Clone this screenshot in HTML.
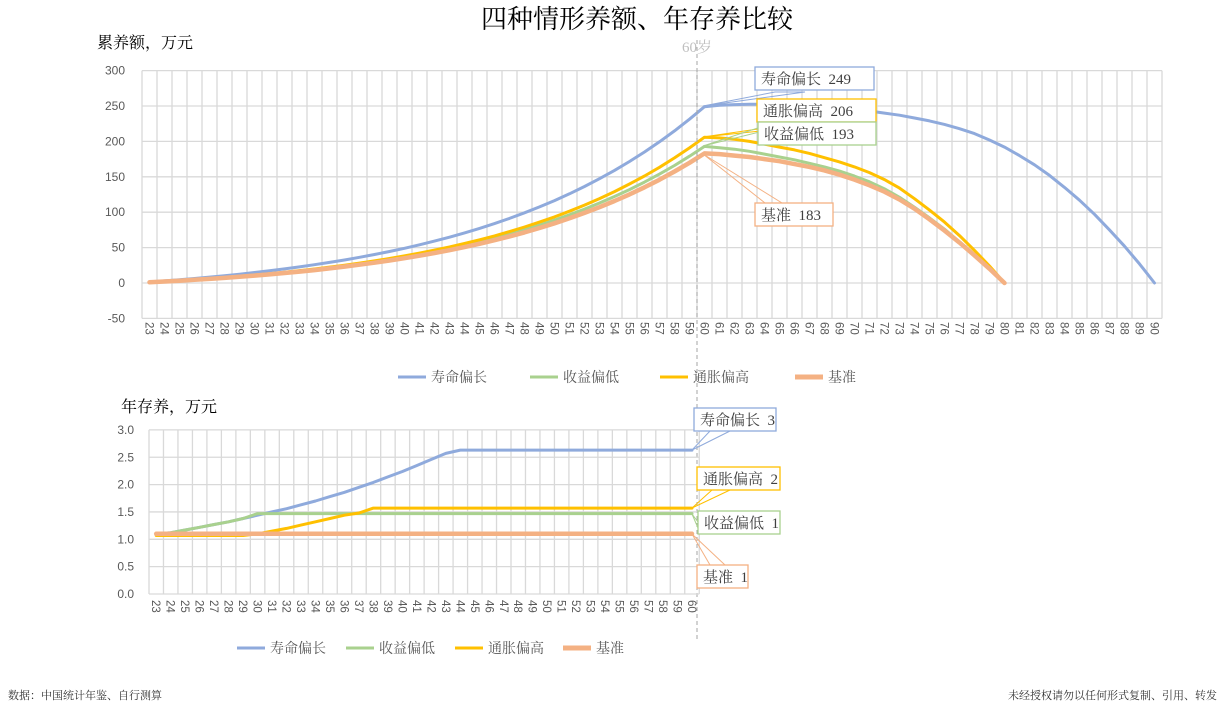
<!DOCTYPE html>
<html><head><meta charset="utf-8"><style>
body{margin:0;background:#fff;width:1227px;height:709px;overflow:hidden}
svg text{font-family:"Liberation Sans","Noto Sans CJK SC",sans-serif}
.s{font-family:"Liberation Serif","Noto Serif CJK SC",serif !important}
</style></head><body>
<svg id="c" width="1227" height="709" xmlns="http://www.w3.org/2000/svg">
<text x="637" y="28" text-anchor="middle" font-size="26" class="s" fill="#000">四种情形养额、年存养比较</text>
<text x="97" y="48" font-size="16" class="s" fill="#000">累养额，万元</text>
<text x="121" y="412" font-size="16" class="s" fill="#000">年存养，万元</text>
<text x="8" y="699" font-size="11" class="s" fill="#333">数据：中国统计年鉴、自行测算</text>
<text x="1217" y="699" font-size="11" text-anchor="end" class="s" fill="#333">未经授权请勿以任何形式复制、引用、转发</text>
<g id="g"></g>
</svg>
<script>
var g=document.getElementById('g'),h='';
function L(x1,y1,x2,y2,c,w,d){h+='<line x1="'+x1+'" y1="'+y1+'" x2="'+x2+'" y2="'+y2+'" stroke="'+c+'" stroke-width="'+(w||1)+'"'+(d?' stroke-dasharray="'+d+'"':'')+'/>';}
function T(x,y,t,s,a,c,ex){h+='<text x="'+x+'" y="'+y+'" font-size="'+s+'" text-anchor="'+(a||'start')+'" fill="'+(c||'#595959')+'" '+(ex||'')+'>'+t+'</text>';}
var X0=142,W=15,Y0=283,K=0.708;
function tx(a){return X0+(a-23+0.5)*W}function ty(v){return Y0-v*K}
for(var v=-50;v<=300;v+=50){L(X0,ty(v),X0+68*W,ty(v),'#d9d9d9',1.3);T(125,ty(v)+4,v,12,'end');}
for(var i=0;i<=68;i++)L(X0+i*W,ty(300),X0+i*W,ty(-50),'#d9d9d9',1.3);
for(var a=23;a<=90;a++)T(tx(a)-4,322,a,11.5,'start','#595959','transform="rotate(90 '+(tx(a)-4)+' 322)"');
function acc(V,r){var p=[];var D=Math.pow(1+r,38)-1;for(var a=23;a<=60;a++)p.push([a,V*(Math.pow(1+r,a-22)-1)/D]);return p;}
function dec(arr){var p=[];for(var i=1;i<arr.length;i++)p.push([60+i,arr[i]]);return p;}
var blue=acc(249,0.07).concat(dec([249,251,252,252.5,252.5,252,251,250,248.5,247,245,243,240,237,233,229,224,218,211,202,192,180,167,152,135,117,97,75,52,27,0]));
var yel=acc(206,0.074).concat(dec([206,205,203,200,196,192,188,183,177,171,164,156,146,134,119,103,86,67,46,24,0]));
var grn=acc(193,0.072).concat(dec([193,191,189,186,182,178,174,169,164,158,151,143,133,121,107,92,76,58,40,20,0]));
var org=acc(183,0.072).concat(dec([183,182,180,178,175,172,168,164,159,153,146,138,129,118,105,90,74,57,39,20,0]));
function P(pts,fx,fy,c,w){var d='';pts.forEach(function(p,i){d+=(i?'L':'M')+fx(p[0]).toFixed(1)+' '+fy(p[1]).toFixed(1)});h+='<path d="'+d+'" fill="none" stroke="'+c+'" stroke-width="'+w+'" stroke-linejoin="round" stroke-linecap="round"/>';}
var CB='#8faadc',CG='#a9d18e',CY='#ffc000',CO='#f4b183';
P(blue,tx,ty,CB,3);P(grn,tx,ty,CG,3);P(yel,tx,ty,CY,3);P(org,tx,ty,CO,4.5);
L(697,40,697,640,'#a6a6a6',1,'4,3');
T(697,52,'60岁',15,'middle','#bfbfbf','class="s"');
function box(x,y,w,hh,c,t){h+='<rect x="'+x+'" y="'+y+'" width="'+w+'" height="'+hh+'" fill="#fff" stroke="'+c+'" stroke-width="1.3"/>';T(x+6,y+17,t,15,'start','#404040','class="s" xml:space="preserve"');}
h+='<polygon points="703,106 775,92 805,92" fill="none" stroke="'+CB+'"/>';
h+='<polygon points="703,137 765,128 790,128" fill="none" stroke="'+CY+'"/>';
h+='<polygon points="703,146 776,122 800,122" fill="none" stroke="'+CG+'"/>';
h+='<polygon points="703,154 765,203 782,203" fill="none" stroke="'+CO+'"/>';
box(755,67,119,23,CB,'寿命偏长  249');
box(757,99,119,23,CY,'通胀偏高  206');
box(758,122,118,23,CG,'收益偏低  193');
box(755,203,78,23,CO,'基准  183');
function leg(x,y,c,t,w){L(x,y,x+28,y,c,w||3);T(x+33,y+5,t,14,'start','#595959','class="s"');}
leg(398,377,CB,'寿命偏长');leg(530,377,CG,'收益偏低');leg(660,377,CY,'通胀偏高');leg(795,377,CO,'基准',5);
leg(237,648,CB,'寿命偏长');leg(346,648,CG,'收益偏低');leg(455,648,CY,'通胀偏高');leg(563,648,CO,'基准',5);
var BX=149,BW=14.48,BY=594,BK=54.7;
function bx(a){return BX+(a-23+0.5)*BW}function by(v){return BY-v*BK}
for(var v=0;v<=3.001;v+=0.5){L(BX,by(v),BX+38*BW,by(v),'#d9d9d9',1.3);T(134,by(v)+4,v.toFixed(1),12,'end');}
for(var i=0;i<=38;i++)L(BX+i*BW,by(3),BX+i*BW,BY,'#d9d9d9',1.3);
for(var a=23;a<=60;a++)T(bx(a)-4,600,a,11.5,'start','#595959','transform="rotate(90 '+(bx(a)-4)+' 600)"');
var bb=[1.1,1.12,1.17,1.22,1.27,1.32,1.38,1.44,1.5,1.56,1.63,1.7,1.78,1.86,1.95,2.04,2.14,2.24,2.35,2.46,2.57,2.63];
function mk(arr,last){var p=[];for(var a=23;a<=60;a++){var i=a-23;p.push([a,i<arr.length?arr[i]:last]);}return p;}
var bB=mk(bb,2.63);
var bG=mk([1.1,1.12,1.17,1.22,1.27,1.32,1.38,1.47],1.47);
var bY=mk([1.07,1.07,1.07,1.07,1.07,1.07,1.07,1.1,1.15,1.2,1.26,1.32,1.38,1.44,1.48,1.57],1.57);
var bO=mk([],1.1);
P(bB,bx,by,CB,3);P(bG,bx,by,CG,3);P(bY,bx,by,CY,3);P(bO,bx,by,CO,4.5);
h+='<polygon points="692,450 710,431 730,431" fill="none" stroke="'+CB+'"/>';
h+='<polygon points="692,508 712,490 730,490" fill="none" stroke="'+CY+'"/>';
h+='<polygon points="692,514 698,522 698,528" fill="none" stroke="'+CG+'"/>';
h+='<polygon points="692,534 710,565 725,565" fill="none" stroke="'+CO+'"/>';
box(694,408,82,23,CB,'寿命偏长  3');
box(697,467,83,23,CY,'通胀偏高  2');
box(698,511,82,23,CG,'收益偏低  1');
box(697,565,51,23,CO,'基准  1');
g.innerHTML=h;
</script>
</body></html>
